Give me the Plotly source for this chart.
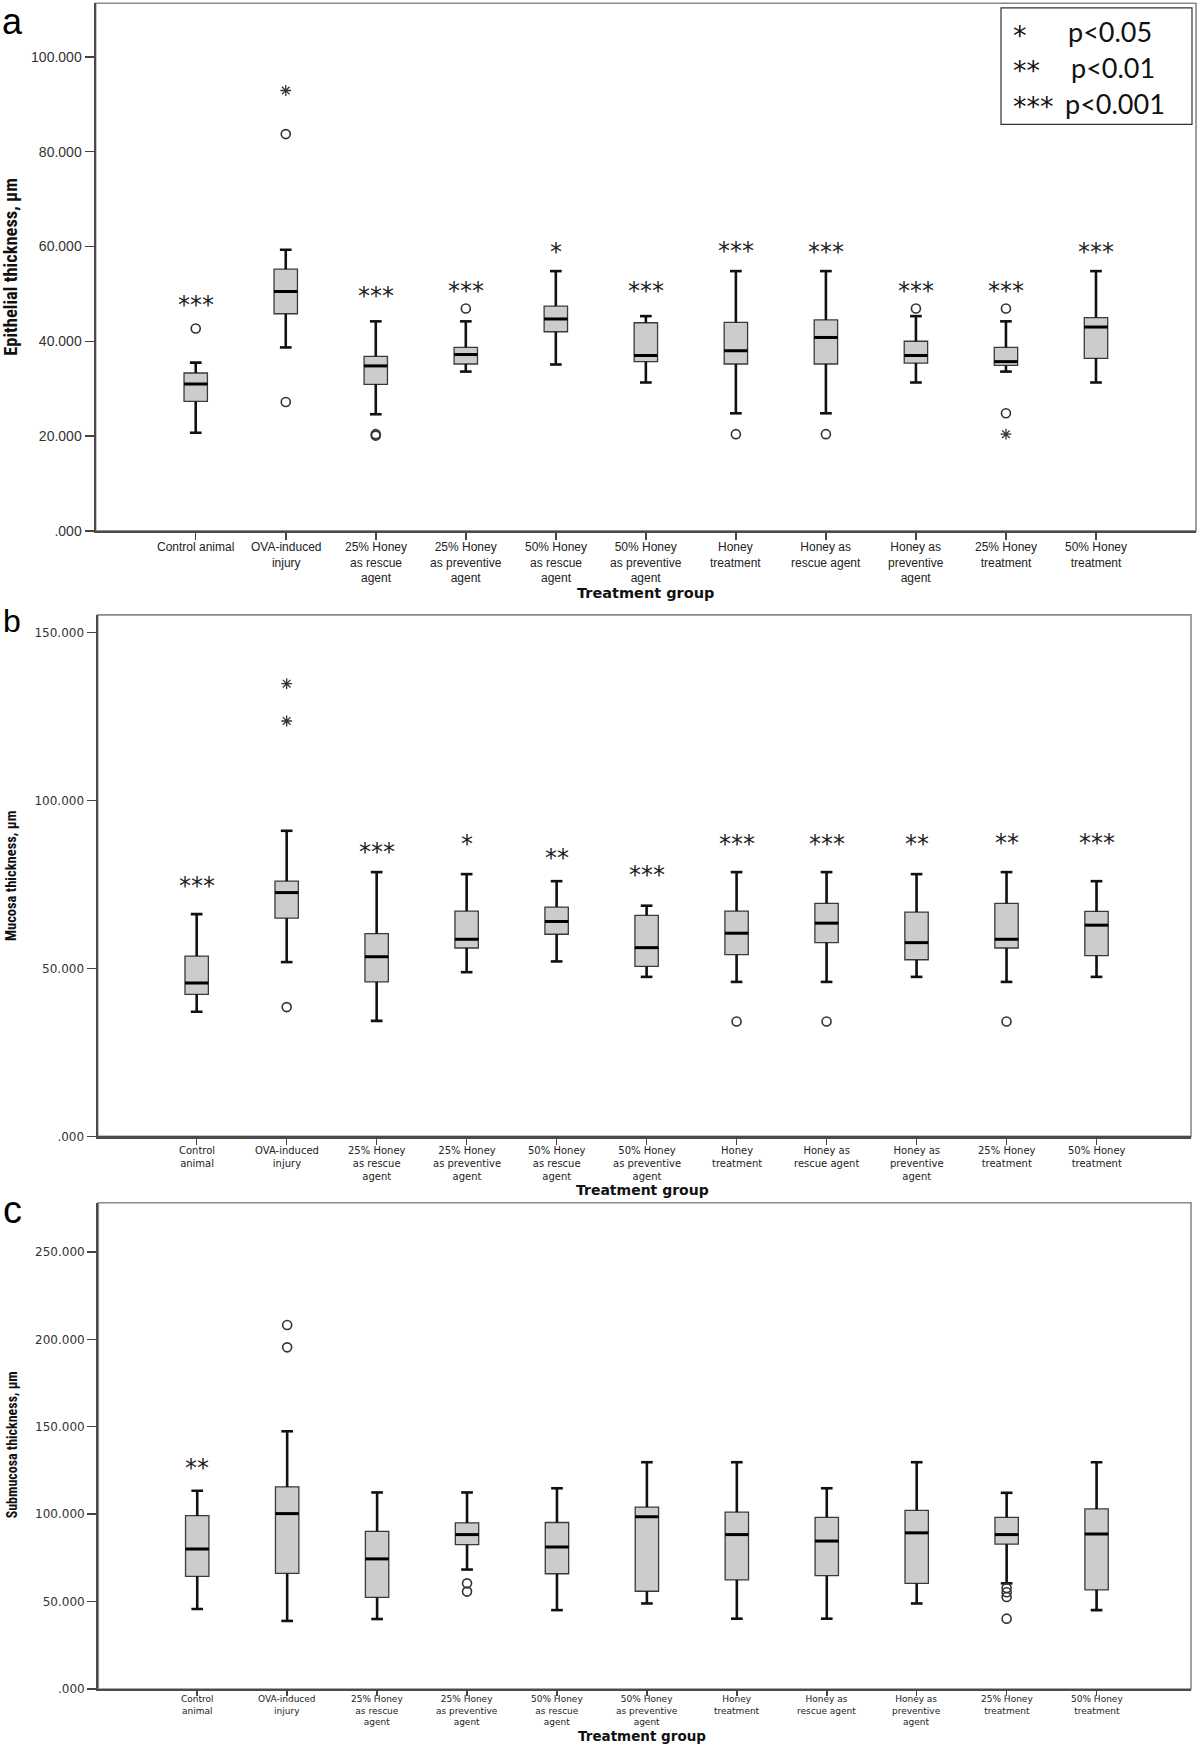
import plotly.graph_objects as go

W, H = 1200, 1752

# ---------------- data ----------------
labels_a = ["Control animal", "OVA-induced<br>injury", "25% Honey<br>as rescue<br>agent",
            "25% Honey<br>as preventive<br>agent", "50% Honey<br>as rescue<br>agent",
            "50% Honey<br>as preventive<br>agent", "Honey<br>treatment", "Honey as<br>rescue agent",
            "Honey as<br>preventive<br>agent", "25% Honey<br>treatment", "50% Honey<br>treatment"]
labels_bc = ["Control<br>animal"] + labels_a[1:]

# Panel a: Epithelial thickness
a_low = [20.7, 38.7, 24.6, 33.6, 35.1, 31.3, 24.8, 24.8, 31.3, 33.6, 31.3]
a_q1 = [27.3, 45.8, 30.9, 35.2, 42.0, 35.7, 35.2, 35.2, 35.4, 34.9, 36.4]
a_med = [31.0, 50.5, 34.8, 37.2, 44.7, 37.0, 38.0, 40.8, 37.0, 35.7, 43.0]
a_q3 = [33.3, 55.2, 36.8, 38.7, 47.4, 43.9, 44.0, 44.5, 40.0, 38.7, 45.0]
a_high = [35.5, 59.3, 44.2, 44.2, 54.8, 45.3, 54.8, 54.8, 45.3, 44.2, 54.8]
a_out_cat = [0, 1, 1, 2, 2, 3, 6, 7, 8, 9, 9]
a_out_val = [42.7, 83.7, 27.2, 20.4, 20.1, 46.9, 20.4, 20.4, 46.9, 46.9, 24.8]
a_ext_cat = [1, 9]
a_ext_val = [92.9, 20.4]
a_sig = ["***", "", "***", "***", "*", "***", "***", "***", "***", "***", "***"]
a_sig_y = [48.6, 0, 50.5, 51.6, 59.8, 51.6, 60.2, 59.8, 51.6, 51.6, 59.8]
a_ticks = [0, 20, 40, 60, 80, 100]

# Panel b: Mucosa thickness
b_low = [37.1, 51.9, 34.4, 48.9, 52.1, 47.5, 46.0, 46.0, 47.5, 46.0, 47.5]
b_q1 = [42.3, 65.0, 46.0, 56.1, 60.2, 50.6, 54.1, 57.7, 52.6, 56.1, 53.8]
b_med = [45.7, 72.6, 53.5, 58.7, 64.0, 56.2, 60.5, 63.5, 57.7, 58.7, 62.9]
b_q3 = [53.7, 76.0, 60.4, 67.1, 68.3, 65.8, 67.1, 69.4, 66.8, 69.4, 67.0]
b_high = [66.2, 91.0, 78.7, 78.1, 76.0, 68.7, 78.7, 78.7, 78.1, 78.7, 76.0]
b_out_cat = [1, 6, 7, 9]
b_out_val = [38.5, 34.2, 34.2, 34.2]
b_ext_cat = [1, 1]
b_ext_val = [134.8, 123.7]
b_sig = ["***", "", "***", "*", "**", "***", "***", "***", "**", "**", "***"]
b_sig_y = [76.0, 0, 86.2, 88.5, 84.3, 79.2, 88.7, 88.7, 88.7, 88.9, 88.9]
b_ticks = [0, 50, 100, 150]

# Panel c: Submucosa thickness
c_low = [45.7, 38.9, 40.0, 68.3, 45.1, 48.9, 40.2, 40.2, 48.9, 60.4, 45.1]
c_q1 = [64.4, 66.1, 52.4, 82.6, 65.9, 55.9, 62.4, 64.8, 60.4, 82.8, 56.7]
c_med = [80.1, 100.3, 74.4, 88.3, 81.2, 98.5, 88.3, 84.6, 89.3, 88.3, 88.7]
c_q3 = [99.1, 115.6, 90.1, 95.0, 95.2, 104.0, 101.1, 98.1, 102.2, 98.1, 103.0]
c_high = [113.4, 147.4, 112.4, 112.4, 114.8, 129.7, 129.7, 114.8, 129.7, 112.2, 129.7]
c_out_cat = [1, 1, 3, 3, 9, 9, 9, 9]
c_out_val = [208.2, 195.4, 60.4, 55.7, 57.7, 55.3, 52.6, 40.2]
c_ext_cat = []
c_ext_val = []
c_sig = ["**", "", "", "", "", "", "", "", "", "", ""]
c_sig_y = [129.1, 0, 0, 0, 0, 0, 0, 0, 0, 0, 0]
c_ticks = [0, 50, 100, 150, 200, 250]

# ---------------- helpers ----------------
def py(px):
    return 1 - px / H

def fmt(v):
    s = "%.3f" % v
    return s[1:] if s.startswith("0") else s

panels = [
    dict(name="a", low=a_low, q1=a_q1, med=a_med, q3=a_q3, high=a_high,
         oc=a_out_cat, ov=a_out_val, ec=a_ext_cat, ev=a_ext_val, sig=a_sig, sigy=a_sig_y,
         ticks=a_ticks, labels=labels_a, ytitle="Epithelial thickness, µm",
         left=95.7, right=1196, top=3.3, bottom=533.3, ymax=111.3, xr=[-1.111, 11.111],
         tickfont=dict(family="Liberation Sans, Arial", size=14, color="#333"),
         labfont=dict(family="Liberation Sans, Arial", size=12, color="#222"),
         xticklen=7, lab_top=541.5, ytfont=18.5, ytx=11, yty=268,
         xtitle_y=596, xtitle_x=645, xtitle_size=14.5,
         letter=dict(y=0, yanchor="top", size=36)),
    dict(name="b", low=b_low, q1=b_q1, med=b_med, q3=b_q3, high=b_high,
         oc=b_out_cat, ov=b_out_val, ec=b_ext_cat, ev=b_ext_val, sig=b_sig, sigy=b_sig_y,
         ticks=b_ticks, labels=labels_bc, ytitle="Mucosa thickness, µm",
         left=97.7, right=1191, top=617.7, bottom=1141.6, ymax=155.3, xr=[-1.1, 11.05],
         tickfont=dict(family="DejaVu Sans", size=12, color="#333"),
         labfont=dict(family="DejaVu Sans", size=10, color="#222"),
         xticklen=6, lab_top=1149.5, ytfont=14.5, ytx=12, yty=880,
         xtitle_y=1195, xtitle_x=642, xtitle_size=14,
         letter=dict(y=623.5, yanchor="middle", size=32)),
    dict(name="c", low=c_low, q1=c_q1, med=c_med, q3=c_q3, high=c_high,
         oc=c_out_cat, ov=c_out_val, ec=c_ext_cat, ev=c_ext_val, sig=c_sig, sigy=c_sig_y,
         ticks=c_ticks, labels=labels_bc, ytitle="Submucosa thickness, µm",
         left=98.3, right=1191, top=1208.3, bottom=1696.7, ymax=278.1, xr=[-1.1, 11.05],
         tickfont=dict(family="DejaVu Sans", size=12, color="#333"),
         labfont=dict(family="DejaVu Sans", size=9, color="#222"),
         xticklen=5, lab_top=1701, ytfont=14, ytx=12, yty=1452,
         xtitle_y=1743.6, xtitle_x=642, xtitle_size=13.5,
         letter=dict(y=1215.5, yanchor="middle", size=38)),
]

fig = go.Figure()
annotations = []
shapes = []
layout_axes = {}

BOXW = 0.26
CAPW = 0.065

for k, p in enumerate(panels):
    sfx = "" if k == 0 else str(k + 1)
    xa, ya = "x" + sfx, "y" + sfx
    n = len(p["med"])
    xs = list(range(n))

    fig.add_trace(go.Box(
        x=xs, q1=p["q1"], median=p["med"], q3=p["q3"],
        lowerfence=p["low"], upperfence=p["high"],
        width=BOXW, whiskerwidth=0, boxpoints=False,
        fillcolor="#cccccc", line=dict(color="#3a3a3a", width=1.3),
        xaxis=xa, yaxis=ya, showlegend=False, hoverinfo="skip"))

    # whiskers with caps
    wx, wy = [], []
    for i in xs:
        wx += [i, i, None, i, i, None,
               i - CAPW, i + CAPW, None, i - CAPW, i + CAPW, None]
        wy += [p["q3"][i], p["high"][i], None, p["q1"][i], p["low"][i], None,
               p["high"][i], p["high"][i], None, p["low"][i], p["low"][i], None]
    fig.add_trace(go.Scatter(x=wx, y=wy, mode="lines", line=dict(color="#111", width=2.6),
                             xaxis=xa, yaxis=ya, showlegend=False, hoverinfo="skip"))
    # medians
    mx, my = [], []
    for i in xs:
        mx += [i - BOXW / 2, i + BOXW / 2, None]
        my += [p["med"][i], p["med"][i], None]
    fig.add_trace(go.Scatter(x=mx, y=my, mode="lines", line=dict(color="#000", width=3),
                             xaxis=xa, yaxis=ya, showlegend=False, hoverinfo="skip"))
    # outliers
    fig.add_trace(go.Scatter(x=p["oc"], y=p["ov"], mode="markers",
                             marker=dict(symbol="circle-open", size=9, color="#333",
                                         line=dict(width=1.6, color="#333")),
                             xaxis=xa, yaxis=ya, showlegend=False, hoverinfo="skip"))
    if p["ec"]:
        fig.add_trace(go.Scatter(x=p["ec"], y=p["ev"], mode="markers",
                                 marker=dict(symbol="asterisk-open", size=9, color="#333",
                                             line=dict(width=1.3, color="#333")),
                                 xaxis=xa, yaxis=ya, showlegend=False, hoverinfo="skip"))

    layout_axes["xaxis" + sfx] = dict(
        domain=[p["left"] / W, p["right"] / W], range=p["xr"], anchor=ya,
        tickvals=xs, showticklabels=False, ticks="outside", ticklen=p["xticklen"], tickwidth=1.5,
        tickcolor="#444", showline=True, linecolor="#4a4a4a", linewidth=2.2,
        showgrid=False, zeroline=False, fixedrange=True)
    layout_axes["yaxis" + sfx] = dict(
        domain=[py(p["bottom"]), py(p["top"])], range=[0, p["ymax"]], anchor=xa,
        tickvals=p["ticks"], ticktext=[fmt(v) for v in p["ticks"]],
        tickfont=p["tickfont"], ticks="outside", ticklen=9, tickwidth=1.5, tickcolor="#444",
        showline=True, linecolor="#4a4a4a", linewidth=2.2,
        showgrid=False, zeroline=False, fixedrange=True)

    # frame
    shapes.append(dict(type="rect", xref=xa + " domain", yref=ya + " domain",
                       x0=0, x1=1, y0=0, y1=1, line=dict(color="#8a8a8a", width=1.6),
                       layer="below"))

    # x tick labels (multi-line)
    for i, lab in enumerate(p["labels"]):
        annotations.append(dict(
            x=i, xref=xa, y=py(p["lab_top"]), yref="paper",
            text=lab, showarrow=False, xanchor="center", yanchor="top", align="center",
            font=p["labfont"], borderpad=0))

    # significance markers
    for i, s in enumerate(p["sig"]):
        if s:
            annotations.append(dict(x=i, xref=xa, y=p["sigy"][i], yref=ya, text=s,
                                    showarrow=False, yshift=-5, xanchor="center", yanchor="middle",
                                    font=dict(family="DejaVu Sans", size=24, color="#222")))

    # axis titles
    annotations.append(dict(x=p["ytx"] / W, y=py(p["yty"]), xref="paper", yref="paper",
                            text="<b>%s</b>" % p["ytitle"], textangle=-90, showarrow=False,
                            xanchor="center", yanchor="middle",
                            font=dict(family="Liberation Sans Narrow, Roboto Condensed, Arial Narrow, sans-serif",
                                      size=p["ytfont"], color="#111")))
    annotations.append(dict(x=p["xtitle_x"] / W, y=py(p["xtitle_y"]), xref="paper", yref="paper",
                            text="<b>Treatment group</b>", showarrow=False,
                            xanchor="center", yanchor="middle", borderpad=0,
                            font=dict(family="DejaVu Sans", size=p["xtitle_size"], color="#111")))
    # panel letter
    L = p["letter"]
    annotations.append(dict(x=12 / W, y=py(L["y"]), xref="paper", yref="paper",
                            text=p["name"], showarrow=False, xanchor="center", yanchor=L["yanchor"],
                            borderpad=0,
                            font=dict(family="Liberation Sans, Arial", size=L["size"], color="#000")))

# legend box for significance levels (panel a)
shapes.append(dict(type="rect", xref="x domain", yref="y domain",
                   x0=(1001 - 95.7) / 1100.3, x1=(1192 - 95.7) / 1100.3,
                   y0=(533.3 - 125) / 530, y1=(533.3 - 8) / 530,
                   line=dict(color="#333", width=1.2), fillcolor="white", layer="above"))
leg_stars = ["*", "**", "***"]
leg_text = ["p<0.05", "p<0.01", "p<0.001"]
leg_text_x = [1066, 1069, 1063]
for j in range(3):
    yc = (533.3 - (32 + 36 * j)) / 530
    annotations.append(dict(x=(1011 - 95.7) / 1100.3, y=yc - 0.006, xref="x domain", yref="y domain",
                            text=leg_stars[j], showarrow=False, xanchor="left", yanchor="middle",
                            font=dict(family="DejaVu Sans", size=27, color="#111")))
    annotations.append(dict(x=(leg_text_x[j] - 95.7) / 1100.3, y=yc, xref="x domain", yref="y domain",
                            text=leg_text[j], showarrow=False, xanchor="left", yanchor="middle",
                            font=dict(family="Lato, Noto Sans", size=27, color="#111")))

fig.update_layout(
    width=W, height=H, margin=dict(l=0, r=0, t=0, b=0),
    paper_bgcolor="white", plot_bgcolor="white",
    annotations=annotations, shapes=shapes, showlegend=False, **layout_axes)

fig.write_html("out.html", config={"displayModeBar": False, "staticPlot": True},
               post_script="document.body.style.margin='0px';document.body.style.overflow='hidden';")
